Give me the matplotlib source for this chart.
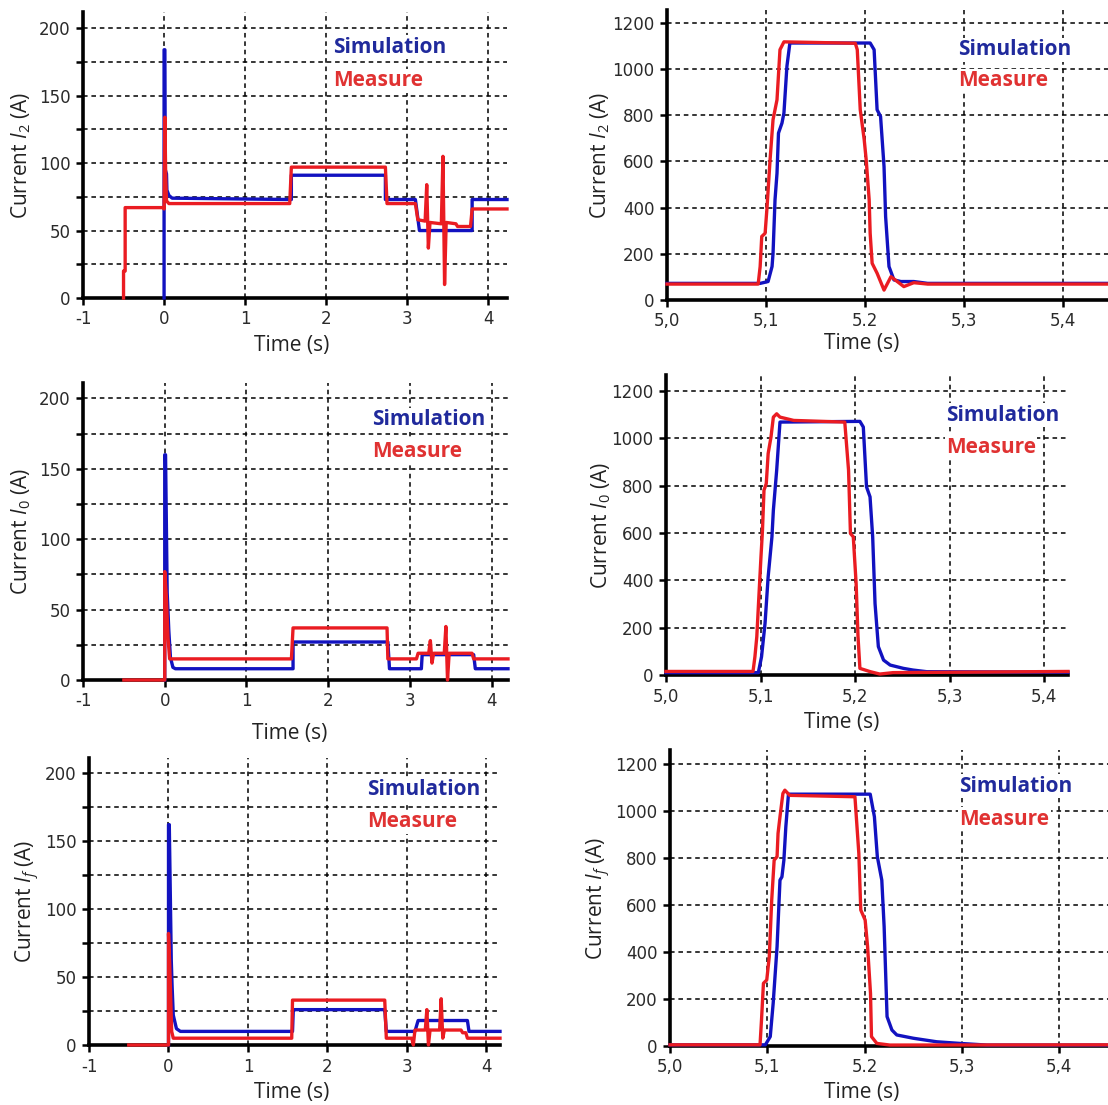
import matplotlib
matplotlib.use('Agg')
import matplotlib.pyplot as plt

plt.rcParams['font.family'] = 'DejaVu Sans'
plt.rcParams['mathtext.fontset'] = 'custom'
plt.rcParams['mathtext.rm'] = 'Open Sans'
plt.rcParams['mathtext.it'] = 'Open Sans:italic'

SIM_COLOR = '#1212c0'
MEAS_COLOR = '#ea1c22'

# ---- I2, full record ----
i2_sim_t = [0.0, 0.0, 0.01, 0.015, 0.03, 0.035, 0.06, 0.1, 1.55, 1.57, 1.57, 2.73, 2.73, 3.1, 3.15, 3.8, 3.8, 4.23]
i2_sim_v = [0, 184, 184, 95, 92, 80, 76, 74, 73, 73, 91, 91, 73, 73, 50, 50, 73, 73]
i2_meas_t = [-0.5, -0.5, -0.48, -0.48, 0.0, 0.0, 0.01, 0.02, 0.03, 0.06, 1.55, 1.57, 2.73, 2.75, 3.1, 3.13, 3.22, 3.24, 3.26,
             3.28, 3.42, 3.44, 3.46, 3.48, 3.6, 3.62, 3.78, 3.8, 4.23]
i2_meas_v = [0, 20, 20, 67, 67, 66, 134, 90, 72, 70, 70, 97, 97, 70, 70, 58, 57, 84, 37,
             56, 55, 105, 10, 56, 55, 53, 53, 66, 66]

# ---- I2, zoom on fault ----
i2z_sim_t = [5.0, 5.094, 5.102, 5.106, 5.107, 5.109, 5.111, 5.1125, 5.116, 5.118, 5.121, 5.124, 5.205, 5.209, 5.212,
             5.2155, 5.219, 5.2206, 5.224, 5.229, 5.236, 5.249, 5.263, 5.445]
i2z_sim_v = [72, 72, 80, 145, 202, 434, 549, 723, 766, 810, 1012, 1113, 1113, 1084, 824,
             795, 578, 361, 145, 87, 80, 80, 72, 72]
i2z_meas_t = [5.0, 5.092, 5.094, 5.0956, 5.099, 5.101, 5.104, 5.107, 5.111, 5.114, 5.118, 5.19, 5.192, 5.195, 5.199,
              5.201, 5.204, 5.205, 5.207, 5.212, 5.219, 5.226, 5.239, 5.249, 5.263, 5.445]
i2z_meas_v = [69, 69, 145, 275, 289, 405, 607, 781, 867, 1084, 1118, 1112, 1084, 824, 694,
              607, 434, 289, 159, 116, 43, 101, 58, 75, 69, 69]

# ---- I0, full record ----
i0_sim_t = [0.0, 0.0, 0.01, 0.03, 0.05, 0.07, 0.1, 0.13, 1.57, 1.57, 2.73, 2.75, 3.14, 3.15, 3.78, 3.8, 4.2]
i0_sim_v = [0, 160, 160, 62, 35, 16, 9, 8, 8, 27, 27, 8, 8, 18, 18, 8, 8]
i0_meas_t = [-0.5, 0.0, 0.0, 0.02, 0.04, 0.06, 1.55, 1.57, 2.72, 2.73, 3.08, 3.1, 3.23, 3.25, 3.27, 3.29,
             3.42, 3.44, 3.46, 3.48, 3.76, 3.78, 4.2]
i0_meas_v = [0, 0, 77, 59, 30, 15, 15, 37, 37, 15, 15, 19, 19, 28, 12, 19,
             19, 38, 0, 19, 19, 15, 15]

# ---- I0, zoom on fault ----
i0z_sim_t = [5.0, 5.0976, 5.101, 5.1047, 5.108, 5.112, 5.1135, 5.117, 5.1205, 5.205, 5.2086, 5.212, 5.2157,
             5.2185, 5.221, 5.2245, 5.23, 5.237, 5.251, 5.261, 5.2756, 5.425]
i0z_sim_v = [10, 10, 77, 218, 415, 584, 696, 865, 1069, 1072, 1048, 795, 753,
             584, 302, 120, 63, 42, 28, 21, 14, 12]
i0z_meas_t = [5.0, 5.092, 5.094, 5.096, 5.098, 5.1004, 5.102, 5.1036, 5.106, 5.108, 5.111, 5.1135, 5.117,
              5.1205, 5.135, 5.189, 5.193, 5.195, 5.198, 5.201, 5.203, 5.205, 5.216, 5.226, 5.24, 5.425]
i0z_meas_v = [15, 15, 77, 162, 317, 499, 612, 781, 809, 936, 1006, 1090, 1104,
              1090, 1076, 1069, 865, 598, 584, 387, 162, 28, 14, 4, 10, 15]

# ---- If, full record ----
if_sim_t = [0.0, 0.0, 0.01, 0.035, 0.045, 0.06, 0.1, 0.15, 1.56, 1.57, 2.72, 2.74, 3.1, 3.14, 3.76, 3.78, 4.17]
if_sim_v = [0, 162, 162, 62, 44, 22, 12, 10, 10, 26, 26, 10, 10, 18, 18, 10, 10]
if_meas_t = [-0.5, 0.0, 0.0, 0.015, 0.04, 0.06, 1.55, 1.56, 2.72, 2.74, 3.06, 3.08, 3.1, 3.23, 3.25, 3.27, 3.29,
             3.41, 3.43, 3.45, 3.47, 3.68, 3.7, 3.74, 3.76, 4.17]
if_meas_v = [0, 0, 82, 60, 10, 5, 5, 33, 33, 5, 5, 0, 11, 11, 26, 0, 11,
             11, 34, 5, 11, 11, 9, 9, 5, 5]

# ---- If, zoom on fault ----
ifz_sim_t = [5.0, 5.098, 5.103, 5.106, 5.11, 5.113, 5.115, 5.117, 5.119, 5.1217, 5.2057, 5.21, 5.213, 5.2176,
             5.22, 5.223, 5.228, 5.233, 5.25, 5.274, 5.298, 5.3256, 5.45]
ifz_sim_v = [5, 5, 40, 182, 423, 706, 720, 791, 933, 1072, 1072, 976, 806, 706,
             508, 125, 68, 47, 33, 18, 11, 4, 4]
ifz_meas_t = [5.0, 5.0925, 5.094, 5.096, 5.0994, 5.102, 5.1045, 5.107, 5.11, 5.111, 5.113, 5.116, 5.118, 5.123,
              5.19, 5.194, 5.196, 5.2005, 5.203, 5.206, 5.207, 5.2125, 5.226, 5.45]
ifz_meas_v = [5, 5, 110, 267, 281, 380, 621, 791, 806, 905, 976, 1075, 1089, 1067,
              1061, 820, 579, 536, 423, 224, 40, 11, 4, 5]

full_xticks = [-1, 0, 1, 2, 3, 4]
full_xlabels = ['-1', '0', '1', '2', '3', '4']
full_yticks = [0, 25, 50, 75, 100, 125, 150, 175, 200]
full_ylabels = ['0', '', '50', '', '100', '', '150', '', '200']
zoom_xticks = [5.0, 5.1, 5.2, 5.3, 5.4]
zoom_yticks = [0, 200, 400, 600, 800, 1000, 1200]
zoom_ylabels = ['0', '200', '400', '600', '800', '1000', '1200']


def drawPanel(fig, rect, sim_t, sim_v, meas_t, meas_v, xlim, ylim, xticks, xlabels, yticks, ylabels,
              ylabel, ylab_x, xlab_pos, legend_pos):
    ax = fig.add_axes(rect)
    ax.plot(sim_t, sim_v, color=SIM_COLOR, lw=2.4, zorder=4, clip_on=False)
    ax.plot(meas_t, meas_v, color=MEAS_COLOR, lw=2.4, zorder=5, clip_on=False)
    ax.set_xlim(xlim)
    ax.set_ylim(ylim)
    ax.set_xticks(xticks)
    ax.set_xticklabels(xlabels)
    ax.set_yticks(yticks)
    ax.set_yticklabels(ylabels)
    ax.tick_params(direction='out', length=5, width=1.8, labelsize=12, labelcolor='#2a2a2a', pad=4)
    ax.grid(True, color='black', linestyle=(0, (3, 2.5)), linewidth=1.1)
    ax.set_axisbelow(True)
    for side in ['top', 'right']:
        ax.spines[side].set_visible(False)
    for side in ['left', 'bottom']:
        ax.spines[side].set_linewidth(2.6)
        ax.spines[side].set_zorder(3)
    ax.set_xlabel('Time (s)', fontsize=15, family='Open Sans', color='#222222', va='top')
    ax.xaxis.set_label_coords(xlab_pos[0], xlab_pos[1])
    ax.set_ylabel(ylabel, fontsize=15, family='Open Sans', color='#222222')
    ax.yaxis.set_label_coords(ylab_x, 0.5)
    lx, ly1, ly2 = legend_pos
    box = dict(facecolor='white', edgecolor='none', pad=1)
    ax.text(lx, ly1, 'Simulation', color='#202a9c', fontsize=15, fontweight='bold', family='Open Sans',
            va='center', ha='left', bbox=box, zorder=6)
    ax.text(lx, ly2, 'Measure', color='#e03232', fontsize=15, fontweight='bold', family='Open Sans',
            va='center', ha='left', bbox=box, zorder=6)
    return ax


fig = plt.figure(figsize=(11.08, 11.05), dpi=100)

drawPanel(fig, [83 / 1108, 1 - 298 / 1105, 424 / 1108, 286 / 1105], i2_sim_t, i2_sim_v, i2_meas_t, i2_meas_v,
          (-1, 4.23), (0, 212), full_xticks, full_xlabels, full_yticks, full_ylabels,
          r'Current $I_2$ (A)', -0.118, (0.493, -0.129), (2.09, 186, 161))
drawPanel(fig, [667 / 1108, 1 - 300 / 1105, 441 / 1108, 290 / 1105], i2z_sim_t, i2z_sim_v, i2z_meas_t, i2z_meas_v,
          (5.0, 5.445), (0, 1256), zoom_xticks, ['5,0', '5,1', '5.2', '5,3', '5,4'], zoom_yticks, zoom_ylabels,
          r'Current $I_2$ (A)', -0.125, (0.442, -0.114), (5.294, 1083, 949))

drawPanel(fig, [83 / 1108, 1 - 680 / 1105, 425 / 1108, 297 / 1105], i0_sim_t, i0_sim_v, i0_meas_t, i0_meas_v,
          (-1, 4.2), (0, 211), full_xticks, full_xlabels, full_yticks, full_ylabels,
          r'Current $I_0$ (A)', -0.118, (0.487, -0.145), (2.54, 185, 162))
drawPanel(fig, [666 / 1108, 1 - 675 / 1105, 402 / 1108, 300 / 1105], i0z_sim_t, i0z_sim_v, i0z_meas_t, i0z_meas_v,
          (5.0, 5.425), (0, 1268), zoom_xticks, ['5,0', '5,1', '5,2', '5,3', '5,4'], zoom_yticks, zoom_ylabels,
          r'Current $I_0$ (A)', -0.132, (0.438, -0.123), (5.296, 1098, 963))

drawPanel(fig, [89 / 1108, 1 - 1045 / 1105, 411 / 1108, 287 / 1105], if_sim_t, if_sim_v, if_meas_t, if_meas_v,
          (-1, 4.17), (0, 211), full_xticks, full_xlabels, full_yticks, full_ylabels,
          r'Current $I_f$ (A)', -0.114, (0.494, -0.129), (2.5, 187.5, 164))
drawPanel(fig, [670 / 1108, 1 - 1046 / 1105, 438 / 1108, 296 / 1105], ifz_sim_t, ifz_sim_v, ifz_meas_t, ifz_meas_v,
          (5.0, 5.45), (0, 1260), zoom_xticks, ['5,0', '5,1', '5.2', '5,3', '5,4'], zoom_yticks, zoom_ylabels,
          r'Current $I_f$ (A)', -0.130, (0.438, -0.122), (5.297, 1106, 966))

fig.savefig('out.png', dpi=100, facecolor='white')
